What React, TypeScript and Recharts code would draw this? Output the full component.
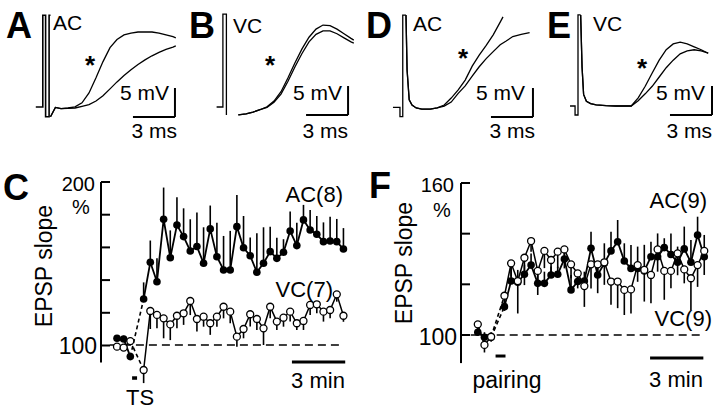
import React from 'react';
import {
  LineChart, ComposedChart, Line, Scatter, ErrorBar, XAxis, YAxis, ReferenceLine,
} from 'recharts';

const FONT = '"Liberation Sans", Arial, Helvetica, sans-serif';

// ---- EPSP traces: t in ms after stimulus, v in mV from baseline
const tA = [0.25, 0.6, 1.0, 1.5, 2.0, 2.5, 3.0, 3.5, 4.0, 4.5, 5.0, 5.5, 6.0, 6.5, 7.0, 7.5, 8.0, 8.5, 9.0, 9.2];
const upA = [-1.5, 0.1, -0.1, 0.0, 0.2, 0.9, 2.6, 5.2, 8.0, 10.4, 11.8, 12.6, 12.9, 13.1, 13.1, 13.1, 12.9, 12.6, 12.3, 12.1];
const loA = [-1.5, 0.1, -0.1, -0.05, 0.0, 0.3, 0.6, 1.2, 2.1, 3.3, 4.5, 5.6, 6.6, 7.5, 8.3, 9.0, 9.6, 10.1, 10.5, 10.7];
const stimTA = [-0.8, -0.3, -0.3, -0.1, -0.1, 0.15, 0.15, 0.25];
const stimVA = [0.17, 0.17, 16, 16, -1.5, -1.5, 16, 16];

const tB = [0.95, 1.5, 2.0, 2.5, 3.0, 3.5, 4.0, 4.5, 5.0, 5.5, 6.0, 6.5, 7.0, 7.5, 8.0, 8.5, 9.0, 9.2];
const upB = [-1.2, -1.0, -0.7, -0.3, 0.2, 1.2, 2.8, 5.2, 7.8, 10.2, 12.2, 13.6, 14.3, 14.2, 13.6, 12.8, 12.0, 11.7];
const loB = [-1.2, -1.0, -0.7, -0.3, 0.1, 1.0, 2.4, 4.6, 7.1, 9.4, 11.4, 12.7, 13.3, 13.3, 12.8, 12.1, 11.4, 11.2];
const stimTB = [-0.6, -0.15, -0.15, 0.1, 0.1];
const stimVB = [0.17, 0.17, 16.2, 16.2, -1.2];

const tDup = [0.07, 0.15, 0.3, 0.5, 0.8, 1.2, 1.8, 2.3, 2.8, 3.3, 3.8, 4.3, 4.8, 5.3, 5.8, 6.3, 6.8, 7.0];
const upD = [16.1, 6.6, 1.5, 0.6, 0.1, -0.1, -0.1, 0.1, 0.6, 1.8, 3.2, 4.9, 7.3, 9.2, 10.9, 12.7, 14.9, 15.8];
const tDlo = [0.07, 0.15, 0.3, 0.5, 0.8, 1.2, 1.8, 2.3, 2.8, 3.3, 3.8, 4.3, 4.8, 5.3, 5.8, 6.3, 6.8, 7.2, 7.7, 8.3, 8.9];
const loD = [16.1, 6.6, 1.5, 0.6, 0.1, -0.1, -0.1, 0.1, 0.4, 1.1, 2.6, 3.9, 5.6, 7.2, 8.6, 9.8, 11.0, 11.6, 12.4, 12.8, 13.1];
const stimTD = [-0.86, -0.36, -0.36, -0.16, -0.16, 0.07];
const stimVD = [0.2, 0.2, -1.4, -1.4, 16.1, 16.1];

const tE = [0.19, 0.29, 0.4, 0.6, 0.9, 1.3, 2.0, 2.7, 3.4, 3.8, 4.3, 4.8, 5.3, 5.8, 6.3, 6.8, 7.3, 7.8, 8.3, 8.8, 9.3];
const upE = [15.7, 6.7, 2.0, 0.8, 0.4, 0.2, 0.05, 0, 0, 0, 1.4, 3.4, 5.7, 7.9, 9.7, 10.7, 11.0, 10.7, 10.2, 9.7, 9.1];
const loE = [15.7, 6.7, 2.0, 0.8, 0.4, 0.2, 0.05, 0, 0, 0, 0.9, 2.1, 3.4, 5.0, 6.6, 7.9, 9.0, 9.5, 9.7, 9.5, 9.1];
const stimTE = [-0.57, -0.21, -0.21, 0, 0, 0.19];
const stimVE = [0, 0, -1.55, -1.55, 15.7, 15.7];

// ---- time courses: minutes, EPSP slope in % of baseline, SEM
const tMin = [0, 0.375, 0.75, 1.5, 1.875, 2.25, 2.625, 3, 3.375, 3.75, 4.125, 4.5, 4.875, 5.25, 5.625, 6, 6.375,
  6.75, 7.125, 7.5, 7.875, 8.25, 8.625, 9, 9.375, 9.75, 10.125, 10.5, 10.875, 11.25, 11.625, 12, 12.375, 12.75];

const acC = [104.1, 103.7, 92.9, 128.1, 150.6, 138.7, 176.9, 153.4, 173.4, 166.3, 157.5, 160.2, 150.0, 171.0, 154.0,
  145.9, 145.9, 172.4, 159.5, 154.6, 144.5, 150.0, 157.1, 153.0, 156.7, 169.7, 160.8, 176.5, 170.3, 167.7, 163.2, 163.6, 163.2, 158.7];
const acErrC = [2, 2, 2, 10.2, 13.3, 14.3, 19.4, 16.7, 16.9, 17.3, 19.4, 20.8, 22, 14.3, 20.8, 20.8, 23.9, 19.4, 19.4,
  11.2, 23.9, 22, 15.3, 12.6, 8, 12, 13.9, 9.2, 12.2, 11.2, 11.8, 14.9, 13.9, 12.8];
const vcC = [99.0, 98.4, 102.4, 84.7, 120.8, 118.4, 116.3, 112.6, 117.9, 119.4, 126.9, 115.9, 117.3, 113.3, 117.3,
  123.4, 120.4, 105.1, 109.8, 118.8, 115.9, 110.2, 123.4, 114.3, 116.7, 120.4, 113.3, 114.7, 124.5, 124.9, 120.4, 121.4, 131.0, 117.9];
const vcErrC = [2, 2, 2, 8, 11, 8.2, 12.2, 9.6, 7.7, 7.1, 8.6, 7.7, 6.1, 7.1, 6.1, 7.1, 7.1, 6.1, 5.7, 7.5, 6.7, 10.2,
  7.1, 5.1, 5.5, 6.1, 4.1, 5.5, 6.1, 5.5, 6.1, 5.1, 4.5, 3.7];

const acF = [101.1, 99.1, 99.1, 111.2, 121.3, 120.8, 124.0, 127.6, 120.4, 120.4, 123.7, 124.0, 130.0, 117.8, 121.1,
  121.3, 134.2, 123.7, 128.3, 133.2, 136.8, 129.2, 126.3, 126.3, 125.3, 130.9, 130.9, 134.5, 131.8, 128.7, 134.0, 128.7, 139.5, 130.9];
const acErrF = [3, 2, 2, 2, 6.3, 4.9, 3.7, 4.6, 3.3, 4.6, 3.3, 3, 3.6, 5.9, 3.3, 3.7, 6.6, 5.3, 7.9, 7.6, 8.6, 7, 9.2,
  8.6, 10.3, 5.9, 9.2, 3.7, 8.3, 6.2, 8.8, 8.8, 7.2, 8.6];
const vcF = [104.2, 96.1, 99.3, 115.5, 128.3, 121.3, 130.5, 137.1, 125.3, 133.2, 129.6, 132.9, 133.8, 127.9, 124.3,
  119.3, 127.9, 127.9, 128.7, 121.1, 121.1, 117.8, 118.0, 127.6, 125.7, 123.7, 133.8, 125.3, 125.3, 132.2, 125.9, 122.4, 127.6, 133.2];
const vcErrF = [3, 3, 2, 6, 5.3, 12.8, 10.8, 4.2, 9.5, 6.8, 5.9, 6.6, 7.5, 5.5, 5.9, 8.2, 9.5, 11.4, 8.9, 9.2, 10.5,
  9.9, 9.5, 6.6, 12.5, 11.2, 8.8, 11.4, 6.8, 8.6, 5.5, 12.5, 8.6, 9.5];

const ticksC = [100, 120, 140, 160, 180, 200];
const ticksF = [100, 120, 140, 160];

const pts = (t: number[], v: number[]) => t.map((x, i) => ({ t: x, v: v[i] }));

// px per unit
const MS_PX = 14;
const MV_PX = 5.8;
const MIN_PX = 17.76;

type Trace = { t: number[]; v: number[] };

const seg = (key: string, data: { t: number; v: number }[], w: number, dash?: string) => (
  <Line key={key} data={data} dataKey="v" stroke="#000" strokeWidth={w} strokeDasharray={dash}
    dot={false} activeDot={false} isAnimationActive={false} />
);

function TracePanel({ stimX, baseY, traces, stim, barT, barV, stimWidth = 1.3 }: {
  stimX: number; baseY: number; traces: Trace[]; stim: Trace; barT: number; barV: number; stimWidth?: number;
}) {
  const W = 190, H = 128, TOP = 4, PAD = 20;
  const xDom = [-PAD / MS_PX, (W - PAD) / MS_PX];
  const yDom = [(baseY - (TOP + H)) / MV_PX, (baseY - TOP) / MV_PX];
  return (
    <div style={{ position: 'absolute', left: stimX - PAD, top: TOP }}>
      <LineChart width={W} height={H} margin={{ top: 0, right: 0, bottom: 0, left: 0 }}>
        <XAxis type="number" dataKey="t" domain={xDom} hide allowDataOverflow />
        <YAxis type="number" dataKey="v" domain={yDom} hide allowDataOverflow />
        {seg('stim', pts(stim.t, stim.v), stimWidth)}
        {traces.map((tr, i) => seg(`tr${i}`, pts(tr.t, tr.v), 1.3))}
        <ReferenceLine ifOverflow="visible" segment={[{ x: barT - 3, y: barV }, { x: barT, y: barV }]} stroke="#000" strokeWidth={2} />
        <ReferenceLine ifOverflow="visible" segment={[{ x: barT, y: barV }, { x: barT, y: barV + 5 }]} stroke="#000" strokeWidth={2} />
      </LineChart>
    </div>
  );
}

const tickMark = (p: any) => <line x1={p.cx} y1={p.cy} x2={p.cx + 9} y2={p.cy} stroke="#000" strokeWidth={2} />;

// y axis of a time-course panel: right-oriented axis (spine on its left edge), ticks drawn inward
function AxisY({ axisX, y100, pctPx, axisMin, ticks }: {
  axisX: number; y100: number; pctPx: number; axisMin: number; ticks: number[];
}) {
  const axisMax = ticks[ticks.length - 1];
  const top = y100 - (axisMax - 100) * pctPx;
  const bottom = y100 + (100 - axisMin) * pctPx;
  const M = 3, PLOT = 4, AXW = 14;
  const rows = ticks.map((v) => ({ x: 1, v }));
  return (
    <div style={{ position: 'absolute', left: axisX - PLOT, top: top - M }}>
      <ComposedChart width={PLOT + AXW} height={bottom - top + 2 * M} data={rows}
        margin={{ top: M, right: 0, bottom: M, left: 0 }}>
        <XAxis type="number" dataKey="x" domain={[0, 1]} hide />
        <YAxis orientation="right" type="number" dataKey="v" domain={[axisMin, axisMax]} ticks={ticks} interval={0}
          width={AXW} tick={false} tickSize={9}
          tickLine={{ stroke: '#000', strokeWidth: 2 }} axisLine={{ stroke: '#000', strokeWidth: 2 }} />
        <Scatter data={rows} dataKey="v" shape={tickMark} isAnimationActive={false} />
      </ComposedChart>
    </div>
  );
}

const filled = (p: any) => <circle cx={p.cx} cy={p.cy} r={3.8} fill="#000" />;
const open = (p: any) => <circle cx={p.cx} cy={p.cy} r={3.5} fill="#fff" stroke="#000" strokeWidth={1.3} />;

function TimeCourse({ axisX, zeroX, y100, pctPx, ac, acErr, vc, vcErr, ticks, axisMin, bar, stimBar }: {
  axisX: number; zeroX: number; y100: number; pctPx: number;
  ac: number[]; acErr: number[]; vc: number[]; vcErr: number[];
  ticks: number[]; axisMin: number; bar: { t: number; v: number }; stimBar: { t0: number; t1: number; v: number; w: number };
}) {
  const LEFT = axisX - 5, TOP = 170, W = 255, H = 232;
  const xDom = [(LEFT - zeroX) / MIN_PX, (LEFT + W - zeroX) / MIN_PX];
  const yDom = [100 - (TOP + H - y100) / pctPx, 100 + (y100 - TOP) / pctPx];
  const acRows = tMin.map((t, i) => ({ t, v: ac[i], e: [0, acErr[i]] }));
  const vcRows = tMin.map((t, i) => ({ t, v: vc[i], e: [vcErr[i], 0] }));

  const series = (name: string, rows: any[], w: number) => [
    seg(`${name}b`, rows.slice(0, 3), w),
    seg(`${name}d`, rows.slice(2, 4), 1.6, '4 3'),
    seg(`${name}p`, rows.slice(3), w),
  ];

  return (
    <>
      <div style={{ position: 'absolute', left: LEFT, top: TOP }}>
        <ComposedChart width={W} height={H} margin={{ top: 0, right: 0, bottom: 0, left: 0 }}>
          <XAxis type="number" dataKey="t" domain={xDom} hide allowDataOverflow />
          <YAxis type="number" dataKey="v" domain={yDom} hide allowDataOverflow />
          <ReferenceLine ifOverflow="visible" segment={[{ x: -0.4, y: 100 }, { x: 12.75, y: 100 }]} stroke="#000" strokeWidth={1.5} strokeDasharray="8 5" />
          <ReferenceLine ifOverflow="visible" segment={[{ x: bar.t, y: bar.v }, { x: bar.t + 3, y: bar.v }]} stroke="#000" strokeWidth={3} />
          <ReferenceLine ifOverflow="visible" segment={[{ x: stimBar.t0, y: stimBar.v }, { x: stimBar.t1, y: stimBar.v }]} stroke="#000" strokeWidth={stimBar.w} />
          {series('ac', acRows, 1.8)}
          {series('vc', vcRows, 1.5)}
          <Scatter data={acRows} dataKey="v" shape={filled} isAnimationActive={false}>
            <ErrorBar dataKey="e" direction="y" width={0} stroke="#000" strokeWidth={1.6} />
          </Scatter>
          <Scatter data={vcRows} dataKey="v" shape={open} isAnimationActive={false}>
            <ErrorBar dataKey="e" direction="y" width={0} stroke="#000" strokeWidth={1.6} />
          </Scatter>
        </ComposedChart>
      </div>
      <AxisY axisX={axisX} y100={y100} pctPx={pctPx} axisMin={axisMin} ticks={ticks} />
    </>
  );
}

const T = (props: any) => <text fontFamily={FONT} fill="#000" {...props} />;

export default function App() {
  return (
    <div style={{ position: 'absolute', left: 0, top: 0, width: 720, height: 411, background: '#fff', overflow: 'hidden' }}>
      <TracePanel stimX={47} baseY={108} traces={[{ t: tA, v: upA }, { t: tA, v: loA }]} stim={{ t: stimTA, v: stimVA }}
        barT={9.14} barV={-1.55} stimWidth={1.6} />
      <TracePanel stimX={225} baseY={108} traces={[{ t: tB, v: upB }, { t: tB, v: loB }]} stim={{ t: stimTB, v: stimVB }}
        barT={8.79} barV={-1.21} />
      <TracePanel stimX={405} baseY={108.5} traces={[{ t: tDup, v: upD }, { t: tDlo, v: loD }]} stim={{ t: stimTD, v: stimVD }}
        barT={9.14} barV={-1.47} />
      <TracePanel stimX={578} baseY={106} traces={[{ t: tE, v: upE }, { t: tE, v: loE }]} stim={{ t: stimTE, v: stimVE }}
        barT={9.57} barV={-1.55} />

      <TimeCourse axisX={101} zeroX={117} y100={345} pctPx={1.635} ac={acC} acErr={acErrC} vc={vcC} vcErr={vcErrC}
        ticks={ticksC} axisMin={89.6} bar={{ t: 9.85, v: 89.6 }} stimBar={{ t0: 0.85, t1: 1.13, v: 79.8, w: 3.5 }} />
      <TimeCourse axisX={460.5} zeroX={477.3} y100={335} pctPx={2.533} ac={acF} acErr={acErrF} vc={vcF} vcErr={vcErrF}
        ticks={ticksF} axisMin={88.9} bar={{ t: 9.7, v: 90.9 }} stimBar={{ t0: 1.0, t1: 1.56, v: 91.7, w: 3 }} />

      <svg width={720} height={411} style={{ position: 'absolute', left: 0, top: 0, pointerEvents: 'none' }}>
        {/* top row */}
        <T x={6} y={38} fontSize={36} fontWeight="bold">A</T>
        <T x={53} y={30} fontSize={21}>AC</T>
        <T x={90} y={74} fontSize={26} fontWeight="bold" textAnchor="middle">*</T>
        <T x={169} y={100} fontSize={21} textAnchor="end">5 mV</T>
        <T x={177} y={138} fontSize={21} textAnchor="end">3 ms</T>

        <T x={189} y={38} fontSize={36} fontWeight="bold">B</T>
        <T x={233} y={33} fontSize={21}>VC</T>
        <T x={270} y={74} fontSize={26} fontWeight="bold" textAnchor="middle">*</T>
        <T x={342} y={100} fontSize={21} textAnchor="end">5 mV</T>
        <T x={348} y={138} fontSize={21} textAnchor="end">3 ms</T>

        <T x={366} y={38} fontSize={36} fontWeight="bold">D</T>
        <T x={413} y={31} fontSize={21}>AC</T>
        <T x={463} y={67} fontSize={26} fontWeight="bold" textAnchor="middle">*</T>
        <T x={525} y={100} fontSize={21} textAnchor="end">5 mV</T>
        <T x={535} y={138} fontSize={21} textAnchor="end">3 ms</T>

        <T x={547} y={38} fontSize={36} fontWeight="bold">E</T>
        <T x={593} y={31} fontSize={21}>VC</T>
        <T x={642} y={77} fontSize={26} fontWeight="bold" textAnchor="middle">*</T>
        <T x={705} y={100} fontSize={21} textAnchor="end">5 mV</T>
        <T x={712} y={138} fontSize={21} textAnchor="end">3 ms</T>

        {/* panel C */}
        <T x={3} y={200} fontSize={36} fontWeight="bold">C</T>
        <T x={95} y={191} fontSize={20} textAnchor="end">200</T>
        <T x={72} y={214} fontSize={20}>%</T>
        <T x={97} y={354} fontSize={23} textAnchor="end">100</T>
        <T x={52} y={266} fontSize={23} textAnchor="middle" transform="rotate(-90 52 266)">EPSP slope</T>
        <T x={343} y={202} fontSize={22} textAnchor="end">AC(8)</T>
        <T x={333} y={297} fontSize={22} textAnchor="end">VC(7)</T>
        <T x={318} y={388} fontSize={22} textAnchor="middle">3 min</T>
        <T x={140} y={405} fontSize={22} textAnchor="middle">TS</T>

        {/* panel F */}
        <T x={369} y={198} fontSize={36} fontWeight="bold">F</T>
        <T x={454} y={192} fontSize={20} textAnchor="end">160</T>
        <T x={433} y={217} fontSize={20}>%</T>
        <T x={457} y={345} fontSize={23} textAnchor="end">100</T>
        <T x={412} y={263} fontSize={23} textAnchor="middle" transform="rotate(-90 412 263)">EPSP slope</T>
        <T x={707} y={208} fontSize={22} textAnchor="end">AC(9)</T>
        <T x={712} y={326} fontSize={22} textAnchor="end">VC(9)</T>
        <T x={676} y={387} fontSize={22} textAnchor="middle">3 min</T>
        <T x={507} y={388} fontSize={23} textAnchor="middle">pairing</T>
      </svg>
    </div>
  );
}
